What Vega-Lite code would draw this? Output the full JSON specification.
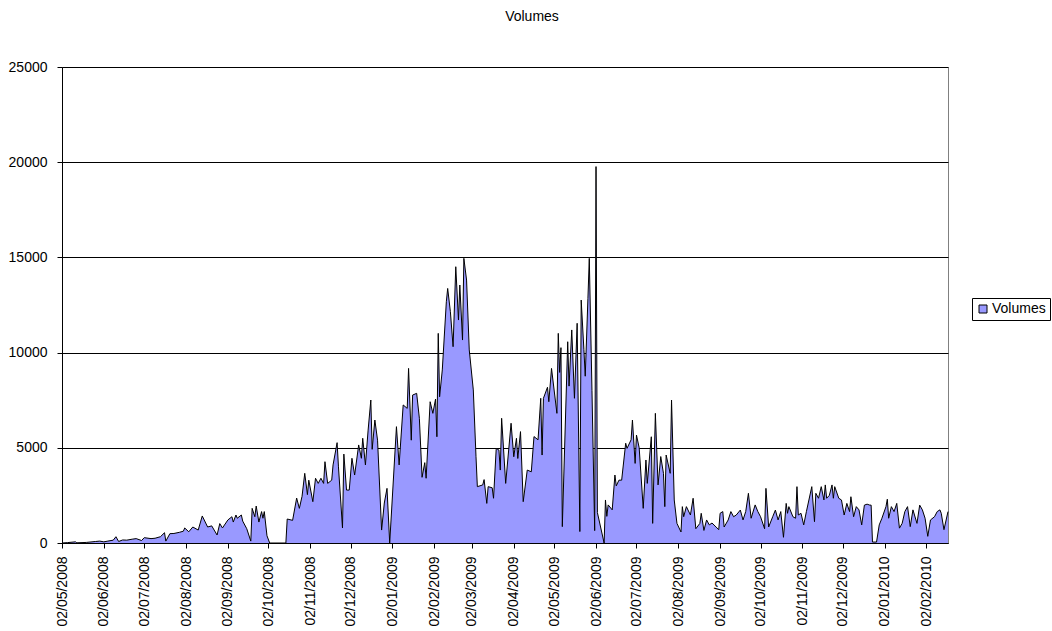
{
  "$schema": "https://vega.github.io/schema/vega-lite/v6.json",
  "width": 886,
  "height": 476,
  "autosize": {"type": "none"},
  "padding": {"left": 62, "top": 67, "right": 104, "bottom": 88},
  "background": "white",
  "title": {"text": "Volumes", "font": "Liberation Sans", "fontSize": 14, "fontWeight": "normal", "color": "black", "anchor": "middle", "dx": 27, "offset": 36},
  "data": {"values": [
    {"date":"2008-05-02","v":0},{"date":"2008-05-06","v":20},{"date":"2008-05-12","v":60},{"date":"2008-05-13","v":10},{"date":"2008-05-20","v":30},{"date":"2008-05-27","v":80},{"date":"2008-05-30","v":100},
    {"date":"2008-06-02","v":60},{"date":"2008-06-05","v":100},{"date":"2008-06-09","v":150},{"date":"2008-06-11","v":330},{"date":"2008-06-13","v":80},{"date":"2008-06-16","v":160},{"date":"2008-06-19","v":150},{"date":"2008-06-23","v":200},{"date":"2008-06-26","v":230},{"date":"2008-06-30","v":130},
    {"date":"2008-07-02","v":280},{"date":"2008-07-07","v":230},{"date":"2008-07-10","v":250},{"date":"2008-07-14","v":330},{"date":"2008-07-17","v":540},{"date":"2008-07-18","v":100},{"date":"2008-07-21","v":490},{"date":"2008-07-24","v":500},{"date":"2008-07-28","v":560},{"date":"2008-07-31","v":620},
    {"date":"2008-08-01","v":790},{"date":"2008-08-04","v":590},{"date":"2008-08-07","v":840},{"date":"2008-08-11","v":680},{"date":"2008-08-14","v":1420},{"date":"2008-08-18","v":840},{"date":"2008-08-21","v":900},{"date":"2008-08-25","v":420},{"date":"2008-08-27","v":1020},{"date":"2008-08-29","v":790},
    {"date":"2008-09-02","v":1210},{"date":"2008-09-05","v":1380},{"date":"2008-09-06","v":1100},{"date":"2008-09-08","v":1470},{"date":"2008-09-09","v":1300},{"date":"2008-09-12","v":1470},{"date":"2008-09-13","v":1150},{"date":"2008-09-16","v":750},{"date":"2008-09-19","v":100},{"date":"2008-09-20","v":1820},{"date":"2008-09-22","v":1380},{"date":"2008-09-23","v":1940},{"date":"2008-09-25","v":1100},{"date":"2008-09-27","v":1650},{"date":"2008-09-28","v":1300},{"date":"2008-09-29","v":1650},
    {"date":"2008-10-01","v":380},{"date":"2008-10-03","v":0},{"date":"2008-10-15","v":0},{"date":"2008-10-16","v":1260},{"date":"2008-10-20","v":1190},{"date":"2008-10-23","v":2360},{"date":"2008-10-25","v":1820},{"date":"2008-10-27","v":2450},{"date":"2008-10-29","v":3660},{"date":"2008-10-31","v":2540},
    {"date":"2008-11-01","v":3300},{"date":"2008-11-04","v":2170},{"date":"2008-11-06","v":3400},{"date":"2008-11-08","v":3130},{"date":"2008-11-10","v":3400},{"date":"2008-11-12","v":3130},{"date":"2008-11-13","v":4270},{"date":"2008-11-15","v":3130},{"date":"2008-11-18","v":3300},{"date":"2008-11-19","v":4100},{"date":"2008-11-22","v":5270},{"date":"2008-11-23","v":4000},{"date":"2008-11-26","v":790},{"date":"2008-11-27","v":4670},{"date":"2008-11-29","v":2780},
    {"date":"2008-12-01","v":2780},{"date":"2008-12-03","v":4450},{"date":"2008-12-05","v":3570},{"date":"2008-12-08","v":5150},{"date":"2008-12-10","v":4450},{"date":"2008-12-11","v":5500},{"date":"2008-12-13","v":4100},{"date":"2008-12-15","v":5930},{"date":"2008-12-17","v":7510},{"date":"2008-12-18","v":4920},{"date":"2008-12-20","v":6460},{"date":"2008-12-22","v":5400},{"date":"2008-12-25","v":680},{"date":"2008-12-27","v":2100},{"date":"2008-12-29","v":2870},{"date":"2008-12-31","v":0},
    {"date":"2009-01-05","v":6110},{"date":"2009-01-07","v":4100},{"date":"2009-01-10","v":7250},{"date":"2009-01-13","v":7070},{"date":"2009-01-14","v":9170},{"date":"2009-01-16","v":5400},{"date":"2009-01-17","v":7770},{"date":"2009-01-20","v":7860},{"date":"2009-01-22","v":6550},{"date":"2009-01-24","v":3450},{"date":"2009-01-26","v":4220},{"date":"2009-01-27","v":3400},{"date":"2009-01-30","v":7420},
    {"date":"2009-02-01","v":6810},{"date":"2009-02-03","v":7560},{"date":"2009-02-04","v":5580},{"date":"2009-02-05","v":11010},{"date":"2009-02-06","v":7680},{"date":"2009-02-08","v":9090},{"date":"2009-02-11","v":12670},{"date":"2009-02-12","v":13370},{"date":"2009-02-14","v":12150},{"date":"2009-02-16","v":10310},{"date":"2009-02-18","v":14510},{"date":"2009-02-20","v":11710},{"date":"2009-02-21","v":13550},{"date":"2009-02-23","v":10660},{"date":"2009-02-24","v":14950},{"date":"2009-02-26","v":13810},{"date":"2009-02-28","v":10140},
    {"date":"2009-03-03","v":8040},{"date":"2009-03-05","v":4530},{"date":"2009-03-06","v":2960},{"date":"2009-03-10","v":3050},{"date":"2009-03-11","v":3330},{"date":"2009-03-13","v":2080},{"date":"2009-03-14","v":2960},{"date":"2009-03-17","v":2900},{"date":"2009-03-18","v":2350},{"date":"2009-03-20","v":4970},{"date":"2009-03-22","v":4880},{"date":"2009-03-23","v":3830},{"date":"2009-03-24","v":6550},{"date":"2009-03-27","v":3130},{"date":"2009-03-31","v":6290},
    {"date":"2009-04-02","v":4530},{"date":"2009-04-04","v":5500},{"date":"2009-04-05","v":4440},{"date":"2009-04-07","v":5850},{"date":"2009-04-09","v":2170},{"date":"2009-04-12","v":3830},{"date":"2009-04-15","v":3740},{"date":"2009-04-17","v":5590},{"date":"2009-04-20","v":5420},{"date":"2009-04-22","v":7600},{"date":"2009-04-23","v":4620},{"date":"2009-04-24","v":7600},{"date":"2009-04-27","v":8180},{"date":"2009-04-28","v":7420},{"date":"2009-04-30","v":9170},
    {"date":"2009-05-04","v":6810},{"date":"2009-05-05","v":11010},{"date":"2009-05-06","v":8960},{"date":"2009-05-07","v":10260},{"date":"2009-05-08","v":860},{"date":"2009-05-12","v":10570},{"date":"2009-05-13","v":8240},{"date":"2009-05-15","v":11190},{"date":"2009-05-17","v":7600},{"date":"2009-05-19","v":11540},{"date":"2009-05-21","v":600},{"date":"2009-05-22","v":12760},{"date":"2009-05-24","v":10170},{"date":"2009-05-25","v":8760},{"date":"2009-05-27","v":12850},{"date":"2009-05-28","v":14950},{"date":"2009-05-30","v":8000},
    {"date":"2009-06-01","v":650},{"date":"2009-06-02","v":19770},{"date":"2009-06-03","v":1600},{"date":"2009-06-08","v":0},{"date":"2009-06-09","v":2260},{"date":"2009-06-10","v":1400},{"date":"2009-06-11","v":2000},{"date":"2009-06-14","v":1740},{"date":"2009-06-16","v":3570},{"date":"2009-06-17","v":3000},{"date":"2009-06-19","v":3300},{"date":"2009-06-21","v":3300},{"date":"2009-06-24","v":5240},{"date":"2009-06-25","v":4970},{"date":"2009-06-28","v":5420},{"date":"2009-06-29","v":6460},
    {"date":"2009-07-01","v":4180},{"date":"2009-07-02","v":5670},{"date":"2009-07-04","v":5000},{"date":"2009-07-07","v":1820},{"date":"2009-07-09","v":4360},{"date":"2009-07-10","v":3130},{"date":"2009-07-13","v":5580},{"date":"2009-07-14","v":1030},{"date":"2009-07-16","v":6810},{"date":"2009-07-18","v":3050},{"date":"2009-07-20","v":4540},{"date":"2009-07-22","v":3660},{"date":"2009-07-23","v":1910},{"date":"2009-07-24","v":4620},{"date":"2009-07-27","v":3660},{"date":"2009-07-28","v":7510},{"date":"2009-07-30","v":2260},
    {"date":"2009-08-01","v":1030},{"date":"2009-08-04","v":580},{"date":"2009-08-05","v":1910},{"date":"2009-08-06","v":1380},{"date":"2009-08-08","v":1910},{"date":"2009-08-11","v":1470},{"date":"2009-08-13","v":2350},{"date":"2009-08-15","v":750},{"date":"2009-08-18","v":1030},{"date":"2009-08-19","v":1560},{"date":"2009-08-21","v":660},{"date":"2009-08-23","v":1210},{"date":"2009-08-25","v":950},{"date":"2009-08-27","v":1050},{"date":"2009-08-30","v":840},
    {"date":"2009-09-01","v":700},{"date":"2009-09-02","v":1560},{"date":"2009-09-04","v":1650},{"date":"2009-09-05","v":840},{"date":"2009-09-08","v":1210},{"date":"2009-09-10","v":1650},{"date":"2009-09-12","v":1380},{"date":"2009-09-14","v":1470},{"date":"2009-09-17","v":1730},{"date":"2009-09-19","v":1210},{"date":"2009-09-21","v":1650},{"date":"2009-09-23","v":2610},{"date":"2009-09-25","v":1300},{"date":"2009-09-28","v":2000},{"date":"2009-09-30","v":1650},
    {"date":"2009-10-02","v":1380},{"date":"2009-10-05","v":750},{"date":"2009-10-06","v":2870},{"date":"2009-10-08","v":840},{"date":"2009-10-11","v":1380},{"date":"2009-10-13","v":1730},{"date":"2009-10-15","v":1210},{"date":"2009-10-17","v":1650},{"date":"2009-10-19","v":300},{"date":"2009-10-21","v":2080},{"date":"2009-10-22","v":1560},{"date":"2009-10-23","v":1910},{"date":"2009-10-26","v":1380},{"date":"2009-10-28","v":1300},{"date":"2009-10-29","v":2960},{"date":"2009-10-30","v":1470},
    {"date":"2009-11-01","v":1560},{"date":"2009-11-03","v":950},{"date":"2009-11-05","v":1650},{"date":"2009-11-09","v":2960},{"date":"2009-11-11","v":1120},{"date":"2009-11-12","v":2610},{"date":"2009-11-14","v":2350},{"date":"2009-11-16","v":2960},{"date":"2009-11-18","v":2260},{"date":"2009-11-19","v":3050},{"date":"2009-11-20","v":2350},{"date":"2009-11-22","v":2500},{"date":"2009-11-24","v":3050},{"date":"2009-11-25","v":2350},{"date":"2009-11-26","v":2960},{"date":"2009-11-29","v":2350},
    {"date":"2009-12-01","v":2260},{"date":"2009-12-03","v":1470},{"date":"2009-12-05","v":2080},{"date":"2009-12-07","v":1650},{"date":"2009-12-08","v":2430},{"date":"2009-12-10","v":1380},{"date":"2009-12-12","v":1910},{"date":"2009-12-14","v":1740},{"date":"2009-12-16","v":950},{"date":"2009-12-18","v":1990},{"date":"2009-12-20","v":2040},{"date":"2009-12-22","v":1990},{"date":"2009-12-23","v":1990},{"date":"2009-12-24","v":50},{"date":"2009-12-27","v":50},{"date":"2009-12-29","v":950},{"date":"2009-12-31","v":1300},
    {"date":"2010-01-03","v":1910},{"date":"2010-01-04","v":2300},{"date":"2010-01-05","v":1300},{"date":"2010-01-07","v":1910},{"date":"2010-01-09","v":1650},{"date":"2010-01-11","v":2080},{"date":"2010-01-13","v":780},{"date":"2010-01-15","v":1030},{"date":"2010-01-17","v":1650},{"date":"2010-01-19","v":1910},{"date":"2010-01-21","v":860},{"date":"2010-01-23","v":1740},{"date":"2010-01-26","v":1030},{"date":"2010-01-28","v":1990},{"date":"2010-01-30","v":1740},
    {"date":"2010-02-01","v":1300},{"date":"2010-02-03","v":350},{"date":"2010-02-05","v":1210},{"date":"2010-02-08","v":1380},{"date":"2010-02-10","v":1650},{"date":"2010-02-12","v":1740},{"date":"2010-02-13","v":1560},{"date":"2010-02-15","v":700},{"date":"2010-02-18","v":1650}
  ]},
  "encoding": {
    "x": {
      "field": "date", "type": "temporal",
      "scale": {"type": "utc", "domain": [{"year":2008,"month":5,"date":2,"utc":true},{"year":2010,"month":2,"date":18,"utc":true}]},
      "axis": {
        "title": null, "grid": false, "format": "%d/%m/%Y", "labelAngle": -90,
        "values": [
          {"year":2008,"month":5,"date":2,"utc":true},{"year":2008,"month":6,"date":2,"utc":true},{"year":2008,"month":7,"date":2,"utc":true},{"year":2008,"month":8,"date":2,"utc":true},{"year":2008,"month":9,"date":2,"utc":true},{"year":2008,"month":10,"date":2,"utc":true},{"year":2008,"month":11,"date":2,"utc":true},{"year":2008,"month":12,"date":2,"utc":true},
          {"year":2009,"month":1,"date":2,"utc":true},{"year":2009,"month":2,"date":2,"utc":true},{"year":2009,"month":3,"date":2,"utc":true},{"year":2009,"month":4,"date":2,"utc":true},{"year":2009,"month":5,"date":2,"utc":true},{"year":2009,"month":6,"date":2,"utc":true},{"year":2009,"month":7,"date":2,"utc":true},{"year":2009,"month":8,"date":2,"utc":true},{"year":2009,"month":9,"date":2,"utc":true},{"year":2009,"month":10,"date":2,"utc":true},{"year":2009,"month":11,"date":2,"utc":true},{"year":2009,"month":12,"date":2,"utc":true},
          {"year":2010,"month":1,"date":2,"utc":true},{"year":2010,"month":2,"date":2,"utc":true}
        ],
        "labelFont": "Liberation Sans", "labelFontSize": 14, "labelColor": "black",
        "labelPadding": 8, "labelFlush": false, "labelOverlap": false, "labelBound": false,
        "tickColor": "black", "tickSize": 5, "domainColor": "black"
      }
    }
  },
  "layer": [
    {
      "mark": {"type": "area", "interpolate": "linear"},
      "encoding": {
        "y": {"field": "v", "type": "quantitative", "scale": {"domain": [0, 25000], "nice": false},
          "axis": {"title": null, "values": [0, 5000, 10000, 15000, 20000, 25000], "format": "d", "grid": true, "gridColor": "black", "gridOpacity": 1, "gridWidth": 1,
            "labelFont": "Liberation Sans", "labelFontSize": 14, "labelColor": "black", "labelPadding": 10,
            "tickColor": "black", "tickSize": 5, "domainColor": "black"}},
        "color": {"datum": "Volumes", "type": "nominal", "scale": {"range": ["#9999FF"]},
          "legend": {"orient": "none", "legendX": 910, "legendY": 231, "title": null, "strokeColor": "black", "fillColor": "white", "padding": 4,
            "symbolType": "square", "symbolSize": 64, "symbolStrokeColor": "black", "symbolStrokeWidth": 1, "symbolOpacity": 1,
            "labelFont": "Liberation Sans", "labelFontSize": 14, "labelColor": "black", "labelOffset": 2}}
      }
    },
    {
      "mark": {"type": "line", "color": "black", "strokeWidth": 1, "interpolate": "linear"},
      "encoding": {"y": {"field": "v", "type": "quantitative"}}
    }
  ],
  "config": {"view": {"stroke": "#808080", "strokeWidth": 1}}
}
